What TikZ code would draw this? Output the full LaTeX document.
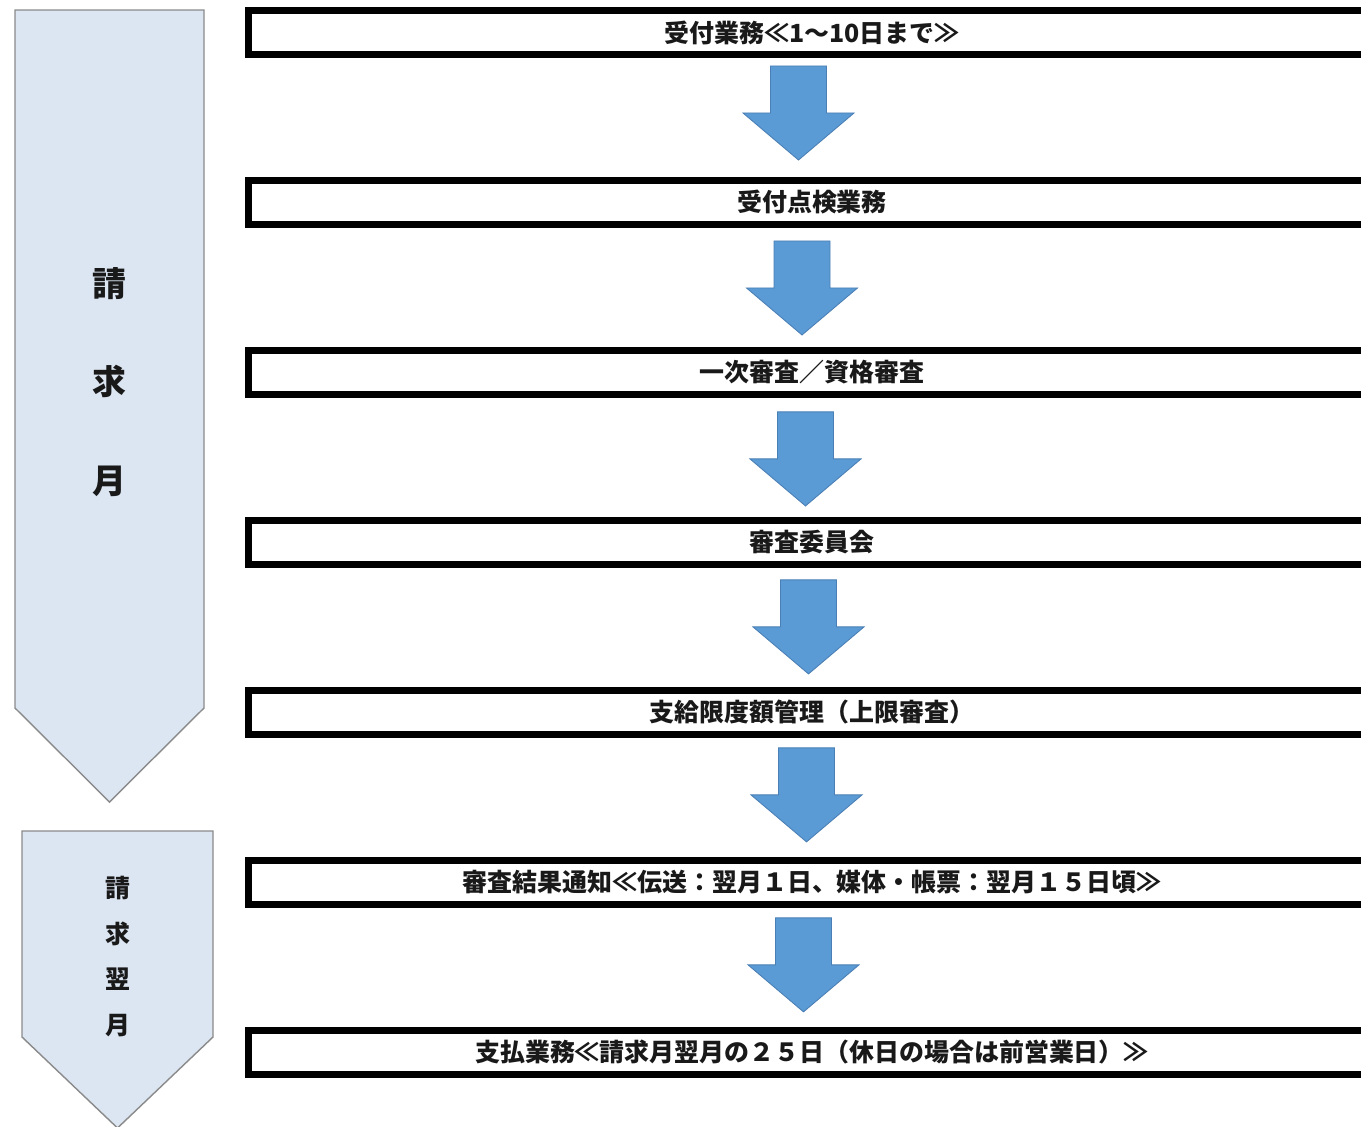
\documentclass[tikz,border=0pt]{standalone}
\usepackage{fontspec}
\newfontfamily\jpfont{Noto Sans CJK JP}
\usepackage{tikz}
\usetikzlibrary{positioning, calc}

\definecolor{bandblue}{HTML}{DCE6F2}
\definecolor{bandedge}{HTML}{8A8A8A}
\definecolor{arrowblue}{HTML}{5B9BD5}
\definecolor{arrowedge}{HTML}{4A7FB5}

\begin{document}
\begin{tikzpicture}[
    x=0.02cm, y=-0.02cm,
    node distance=2.38cm,
    stepbox/.style={draw, line width=0.14cm, minimum width=22.56cm, minimum height=0.88cm, inner sep=0pt, font=\jpfont\bfseries\fontsize{14.2}{17}\selectfont, text=black!90},
    band/.style={draw=bandedge, line width=0.8pt, fill=bandblue},
    bandtext/.style={align=center, inner sep=0pt, text=black!90},
    downarr/.style={draw=arrowedge, fill=arrowblue, line width=0.5pt}
]
\clip (0,0) rectangle (1361,1126);

% left month bands
\draw[band] (15,10) -- (204,10) -- (204,708) -- (109.5,802) -- (15,708) -- cycle;
\draw[band] (22,831) -- (213,831) -- (213,1037) -- (117.5,1128) -- (22,1037) -- cycle;
\node[bandtext, font=\jpfont\bfseries\fontsize{19.3}{56.1}\selectfont] (m1) at (109.5,382) {請\\求\\月};
\node[bandtext, font=\jpfont\bfseries\fontsize{14.2}{25.9}\selectfont] (m2) at (117.5,956.5) {請\\求\\翌\\月};

% work steps
\node[stepbox] (b1) at (812,32.5) {受付業務≪1～10日まで≫};
\node[stepbox, below=of b1] (b2) {受付点検業務};
\node[stepbox, below=of b2] (b3) {一次審査／資格審査};
\node[stepbox, below=of b3] (b4) {審査委員会};
\node[stepbox, below=of b4] (b5) {支給限度額管理（上限審査）};
\node[stepbox, below=of b5] (b6) {審査結果通知≪伝送：翌月１日、媒体・帳票：翌月１５日頃≫};
\node[stepbox, below=of b6] (b7) {支払業務≪請求月翌月の２５日（休日の場合は前営業日）≫};

% block arrows between steps
\foreach \i/\dx/\dy in {1/-13.5/8, 2/-10/13, 3/-6.5/14, 4/-3.5/12, 5/-5.5/10, 6/-8.5/10}
  \draw[downarr] ($(b\i.south)+(\dx-28,\dy)$) -- ++(56,0) -- ++(0,47) -- ++(27.5,0)
    -- ++(-55.5,47) -- ++(-55.5,-47) -- ++(27.5,0) -- cycle;
\end{tikzpicture}
\end{document}
